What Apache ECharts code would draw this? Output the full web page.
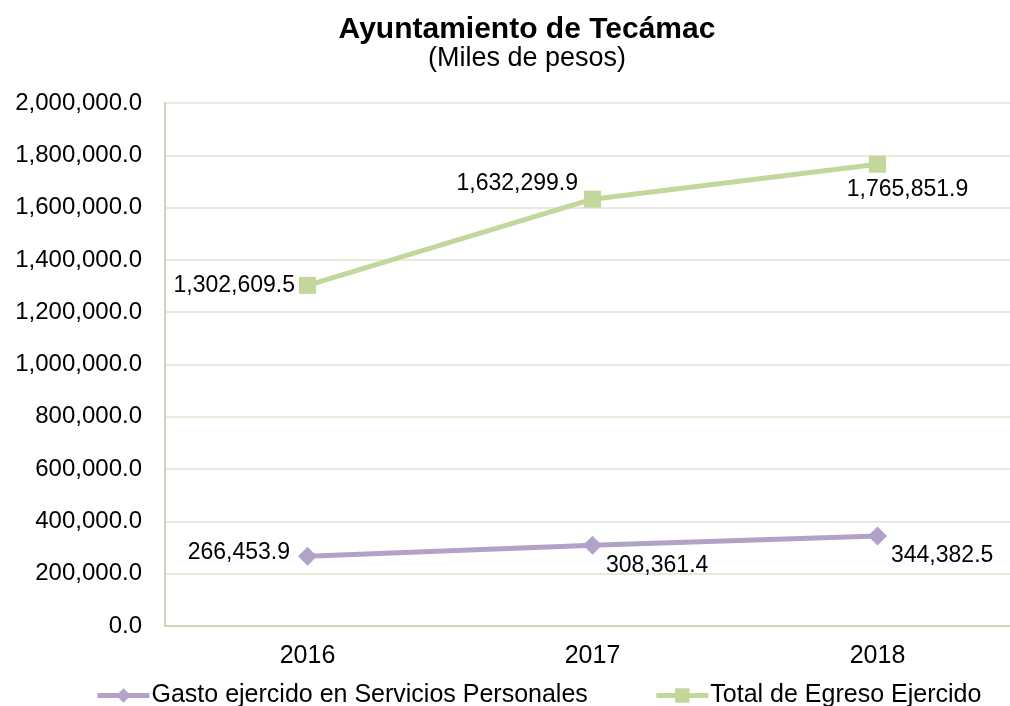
<!DOCTYPE html>
<html>
<head>
<meta charset="utf-8">
<title>Ayuntamiento de Tecámac</title>
<script src="https://cdn.jsdelivr.net/npm/echarts@6/dist/echarts.min.js"></script>
<style>
  html, body { margin: 0; padding: 0; background: #fff; overflow: hidden; width: 1010px; height: 706px; }
  /* el area de trazado se sale un poco por la derecha, como en el original */
  #chart { width: 1020px; height: 706px; }
</style>
</head>
<body>
<div id="chart"></div>
<script>
  // datos (miles de pesos)
  const years = ['2016', '2017', '2018']
  const gastoServicios = [266453.9, 308361.4, 344382.5]
  const totalEgreso = [1302609.5, 1632299.9, 1765851.9]
  const yTicks = [0, 200000, 400000, 600000, 800000, 1000000, 1200000, 1400000, 1600000, 1800000, 2000000]

  const font = '"Liberation Sans", Arial, sans-serif'
  const fmt = v => Number(v).toLocaleString('en-US', { minimumFractionDigits: 1, maximumFractionDigits: 1 })

  // posicion de cada etiqueta como en el original
  const labelsVerde = [
    { position: 'left', distance: 4, offset: [0, 0] },
    { position: 'left', distance: 6, offset: [0, -15] },
    { position: 'bottom', distance: 5, offset: [30, 0] }
  ]
  const labelsMorado = [
    { position: 'left', distance: 8, offset: [0, -4] },
    { position: 'right', distance: 4, offset: [0, 20] },
    { position: 'right', distance: 4, offset: [0, 20] }
  ]

  const chart = echarts.init(document.getElementById('chart'))
  const option = {
    backgroundColor: '#fff',
    animation: false,
    title: {
      text: 'Ayuntamiento de Tecámac',
      subtext: '(Miles de pesos)',
      left: 522,
      top: 10,
      textAlign: 'center',
      itemGap: 0,
      textStyle: { fontFamily: font, fontSize: 30, fontWeight: 'bold', color: '#000' },
      subtextStyle: { fontFamily: font, fontSize: 27, color: '#000' }
    },
    legend: {
      top: 678,
      left: 90,
      itemWidth: 52,
      itemHeight: 18,
      itemGap: 66,
      lineStyle: { width: 5 },
      textStyle: { fontFamily: font, fontSize: 25, color: '#000', padding: [0, 0, 0, -3] },
      data: ['Gasto ejercido en Servicios Personales', 'Total de Egreso Ejercido']
    },
    grid: { left: 165, top: 103, right: 0, bottom: 80, containLabel: false },
    xAxis: {
      type: 'category',
      data: years,
      boundaryGap: true,
      axisLine: { lineStyle: { color: '#d3d3bd', width: 2 } },
      axisTick: { show: false },
      axisLabel: { fontFamily: font, fontSize: 25, color: '#000', margin: 18 }
    },
    yAxis: {
      type: 'value',
      min: yTicks[0],
      max: yTicks[yTicks.length - 1],
      interval: yTicks[1] - yTicks[0],
      axisLine: { show: true, lineStyle: { color: '#d3d3bd', width: 2 } },
      axisTick: { show: false },
      splitLine: { lineStyle: { color: '#ebe9dc', width: 2 } },
      axisLabel: { fontFamily: font, fontSize: 24, color: '#000', margin: 23, formatter: fmt }
    },
    series: [
      {
        name: 'Gasto ejercido en Servicios Personales',
        type: 'line',
        data: gastoServicios.map((v, i) => ({ value: v, label: labelsMorado[i] })),
        symbol: 'diamond',
        symbolSize: 19,
        color: '#b3a2c7',
        lineStyle: { width: 5, color: '#b3a2c7' },
        label: { show: true, fontFamily: font, fontSize: 23, color: '#000', formatter: p => fmt(p.value) }
      },
      {
        name: 'Total de Egreso Ejercido',
        type: 'line',
        data: totalEgreso.map((v, i) => ({ value: v, label: labelsVerde[i] })),
        symbol: 'rect',
        symbolSize: 17,
        color: '#c3d69b',
        lineStyle: { width: 5, color: '#c3d69b' },
        label: { show: true, fontFamily: font, fontSize: 23, color: '#000', formatter: p => fmt(p.value) }
      }
    ]
  }
  chart.setOption(option)
</script>
</body>
</html>
